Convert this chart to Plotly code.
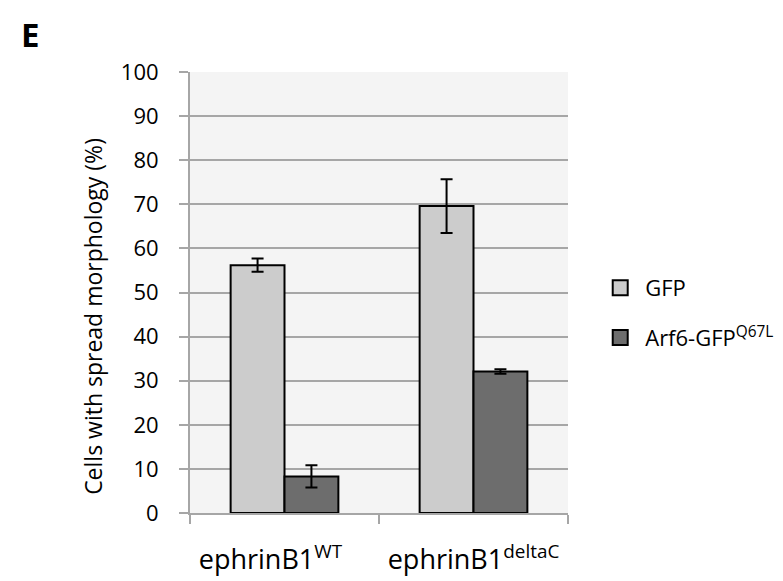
import plotly.graph_objects as go

categories = ["ephrinB1 WT", "ephrinB1 deltaC"]
tick_labels = ["ephrinB1<sup>WT</sup>\u00a0\u00a0\u00a0\u00a0", "ephrinB1<sup>deltaC</sup>"]
gfp_values = [56.2, 69.6]
gfp_errors = [1.5, 6.1]
arf6_values = [8.3, 32.1]
arf6_errors = [2.5, 0.5]
series_names = ["GFP", "Arf6-GFP<sup>Q67L</sup>"]
series_colors = ["#cccccc", "#6d6d6d"]
y_ticks = list(range(0, 101, 10))
y_title = "Cells with spread morphology (%)"
panel_label = "E"

FONT = "Open Sans"

# plot area in pixels
L, R, T, B = 182, 564, 64, 521.5
W, H = 783, 581
pw, ph = R - L, B - T


def px_x(x):
    return (x - L) / pw


def px_y(y):
    return (B - y) / ph


fig = go.Figure()
for vals, errs, col in [(gfp_values, gfp_errors, series_colors[0]),
                        (arf6_values, arf6_errors, series_colors[1])]:
    fig.add_trace(go.Bar(
        x=categories, y=vals, showlegend=False,
        marker=dict(color=col, line=dict(color="#000000", width=2)),
        error_y=dict(type="data", array=errs, visible=True, color="#000000",
                     thickness=2, width=6),
    ))

# legend entries
for i, (name, col) in enumerate(zip(series_names, series_colors)):
    fig.add_trace(go.Scatter(
        x=[None], y=[None], mode="markers", name=name, legendgroup=str(i),
        marker=dict(symbol="square", size=15, color=col,
                    line=dict(color="#000000", width=2)),
    ))

fig.update_layout(
    width=W, height=H,
    margin=dict(l=L, r=W - R, t=T, b=H - B, pad=0),
    paper_bgcolor="#ffffff",
    plot_bgcolor="#f4f4f4",
    barmode="group", bargap=0.43, bargroupgap=0,
    font=dict(family=FONT, color="#000000", size=22),
    showlegend=True,
    legend=dict(
        x=1.072, y=px_y(314), xanchor="left", yanchor="middle",
        font=dict(family=FONT, size=22, color="#000000"),
        traceorder="grouped", tracegroupgap=18,
        bgcolor="rgba(0,0,0,0)", itemwidth=40,
    ),
    annotations=[
        dict(text="<b>" + panel_label + "</b>", x=px_x(9), y=px_y(-0.7),
             xref="paper", yref="paper", xanchor="left", yanchor="top",
             showarrow=False, font=dict(family=FONT, size=33, color="#000000")),
        dict(text=y_title, x=px_x(84), y=px_y(318), xref="paper", yref="paper",
             xanchor="center", yanchor="middle", textangle=-90, showarrow=False,
             font=dict(family=FONT, size=23, color="#000000")),
    ],
)

fig.update_yaxes(
    range=[0, 100], tickvals=y_ticks, ticktext=[str(v) for v in y_ticks],
    showgrid=True, gridcolor="#a6a6a6", gridwidth=2,
    zeroline=False, showline=True, linecolor="#a6a6a6", linewidth=2,
    ticks="outside", ticklen=9, tickwidth=2, tickcolor="#a6a6a6",
    tickfont=dict(family=FONT, size=22), ticklabelstandoff=16,
)
fig.update_xaxes(
    type="category", tickmode="array", tickvals=categories, ticktext=tick_labels,
    showgrid=False, showline=True, linecolor="#a6a6a6", linewidth=2,
    ticks="outside", tickson="boundaries", ticklen=9, tickwidth=2,
    tickcolor="#a6a6a6", tickfont=dict(family=FONT, size=27),
    ticklabelstandoff=22,
)

fig.write_html("out.html")
